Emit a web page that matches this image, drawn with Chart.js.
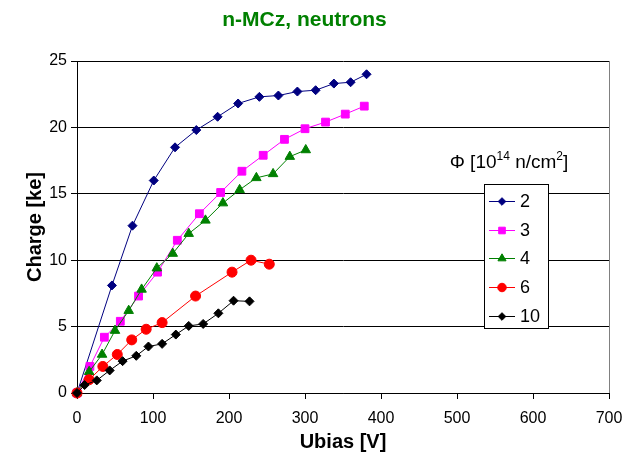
<!DOCTYPE html>
<html>
<head>
<meta charset="utf-8">
<script src="https://cdn.jsdelivr.net/npm/chart.js@4.4.1/dist/chart.umd.min.js"></script>
<style>
  body { margin: 0; background: #fff; }
  #wrap { position: relative; width: 642px; height: 454px; }
  #legend_title {
    position: absolute; left: 436px; top: 151px; width: 146px;
    text-align: center; font: 19px "Liberation Sans", Arial, sans-serif;
    line-height: 22px; color: #000; white-space: nowrap;
  }
  #legend_title sup { font-size: 12px; line-height: 0; position: relative; top: -1px; }
</style>
</head>
<body>
<div id="wrap">
  <canvas id="chart" width="642" height="454"></canvas>
  <div id="legend_title">Φ [10<sup>14</sup> n/cm<sup>2</sup>]</div>
</div>
<script>
// Ubias [V] / Charge [ke] cho tung fluence
const seriesLabels = ['2', '3', '4', '6', '10'];

const ubias2 = [0, 46, 73, 101, 129, 157, 185, 212, 240, 265, 290, 314, 338, 360, 381];
const charge2 = [0, 8.1, 12.6, 16.0, 18.5, 19.8, 20.8, 21.8, 22.3, 22.4, 22.7, 22.8, 23.3, 23.4, 24.0];

const ubias3 = [0, 17, 36, 57, 81, 106, 132, 161, 189, 217, 245, 273, 300, 327, 353, 378];
const charge3 = [0, 2.0, 4.2, 5.4, 7.3, 9.1, 11.5, 13.5, 15.1, 16.7, 17.9, 19.1, 19.9, 20.4, 21.0, 21.6];

const ubias4 = [0, 16, 33, 50, 68, 85, 105, 126, 147, 169, 192, 214, 236, 258, 280, 301];
const charge4 = [0, 1.6, 2.9, 4.7, 6.2, 7.8, 9.4, 10.5, 12.0, 13.0, 14.3, 15.3, 16.2, 16.5, 17.8, 18.3];

const ubias6 = [0, 16, 34, 53, 72, 91, 112, 156, 204, 229, 253];
const charge6 = [0, 1.0, 2.0, 2.9, 4.0, 4.8, 5.3, 7.3, 9.1, 10.0, 9.7];

const ubias10 = [0, 10, 26, 43, 60, 78, 94, 112, 130, 147, 166, 186, 206, 227];
const charge10 = [0, 0.6, 0.95, 1.7, 2.4, 2.8, 3.5, 3.7, 4.4, 5.05, 5.2, 6.0, 6.95, 6.9];

const xTicks = [0, 100, 200, 300, 400, 500, 600, 700];
const yTicks = [0, 5, 10, 15, 20, 25];

const FONT = '"Liberation Sans", Arial, sans-serif';

function toPoints(xs, ys) {
  return xs.map((x, i) => ({ x: x, y: ys[i] }));
}

function makeDataset(label, xs, ys, color, style, radius, order) {
  return {
    label: label,
    data: toPoints(xs, ys),
    borderColor: color,
    backgroundColor: color,
    borderWidth: 1,
    pointStyle: style,
    pointRadius: radius,
    pointBorderWidth: 1,
    pointBorderColor: color,
    pointBackgroundColor: color,
    tension: 0,
    clip: false,
    order: order // series sau ve de len series truoc
  };
}

const datasets = [
  makeDataset(seriesLabels[0], ubias2, charge2, '#000080', 'rectRot', 4.5, 4),
  makeDataset(seriesLabels[1], ubias3, charge3, '#FF00FF', 'rect', 5.5, 3),
  makeDataset(seriesLabels[2], ubias4, charge4, '#008000', 'triangle', 5.5, 2),
  makeDataset(seriesLabels[3], ubias6, charge6, '#FF0000', 'circle', 5, 1),
  makeDataset(seriesLabels[4], ubias10, charge10, '#000000', 'rectRot', 4.5, 0)
];

// ve legend trong vung do thi
const boxLegend = {
  id: 'boxLegend',
  afterDatasetsDraw(chart) {
    const ctx = chart.ctx;
    const a = chart.chartArea;
    const x0 = a.left + 407, y0 = a.top + 123, w = 64, h = 144;
    ctx.save();
    ctx.fillStyle = '#fff';
    ctx.fillRect(x0, y0, w, h);
    ctx.strokeStyle = '#000';
    ctx.lineWidth = 1;
    ctx.strokeRect(x0 + 0.5, y0 + 0.5, w, h);
    ctx.font = '18px ' + FONT;
    ctx.textBaseline = 'middle';
    chart.data.datasets.forEach((ds, i) => {
      const cy = y0 + 17 + i * 28.7;
      ctx.strokeStyle = ds.borderColor;
      ctx.fillStyle = ds.backgroundColor;
      ctx.lineWidth = 1;
      ctx.beginPath();
      ctx.moveTo(x0 + 5, Math.round(cy) + 0.5);
      ctx.lineTo(x0 + 31, Math.round(cy) + 0.5);
      ctx.stroke();
      Chart.helpers.drawPoint(ctx, {
        pointStyle: ds.pointStyle,
        radius: ds.pointRadius * 0.85,
        rotation: 0,
        borderWidth: 1
      }, x0 + 18, Math.round(cy) + 0.5);
      ctx.fillStyle = '#000';
      ctx.fillText(ds.label, x0 + 36, cy + 1);
    });
    ctx.restore();
  }
};

const chart = new Chart(document.getElementById('chart').getContext('2d'), {
  type: 'line',
  data: { datasets: datasets },
  plugins: [boxLegend],
  options: {
    responsive: false,
    animation: false,
    layout: { padding: { left: 0, right: 33, top: 0, bottom: 0 } },
    plugins: {
      legend: { display: false },
      tooltip: { enabled: false },
      title: {
        display: true,
        text: 'n-MCz, neutrons',
        color: '#008000',
        font: { family: FONT, size: 21, weight: 'bold' },
        padding: { top: 8, bottom: 27.8 }
      }
    },
    scales: {
      x: {
        type: 'linear',
        min: 0,
        max: 700,
        afterBuildTicks: (s) => { s.ticks = xTicks.map(v => ({ value: v })); },
        afterFit: (s) => { s.height = 61; },
        ticks: {
          color: '#000',
          padding: 10,
          maxRotation: 0,
          font: { family: FONT, size: 16 }
        },
        grid: {
          color: (c) => (c.tick && c.tick.value === 700 ? '#808080' : 'rgba(0,0,0,0)'),
          tickColor: '#000',
          tickLength: 6
        },
        border: { color: '#000', width: 1 },
        title: {
          display: true,
          text: 'Ubias [V]',
          color: '#000',
          font: { family: FONT, size: 20, weight: 'bold' },
          padding: { top: 0, bottom: 0 }
        }
      },
      y: {
        type: 'linear',
        min: 0,
        max: 25,
        afterBuildTicks: (s) => { s.ticks = yTicks.map(v => ({ value: v })); },
        afterFit: (s) => { s.width = 77; },
        ticks: {
          color: '#000',
          padding: 4,
          font: { family: FONT, size: 16 }
        },
        grid: {
          color: '#000',
          tickColor: '#000',
          tickLength: 6
        },
        border: { color: '#000', width: 1 },
        title: {
          display: true,
          text: 'Charge [ke]',
          color: '#000',
          font: { family: FONT, size: 20, weight: 'bold' },
          padding: { top: 23, bottom: 0 }
        }
      }
    }
  }
});
</script>
</body>
</html>
